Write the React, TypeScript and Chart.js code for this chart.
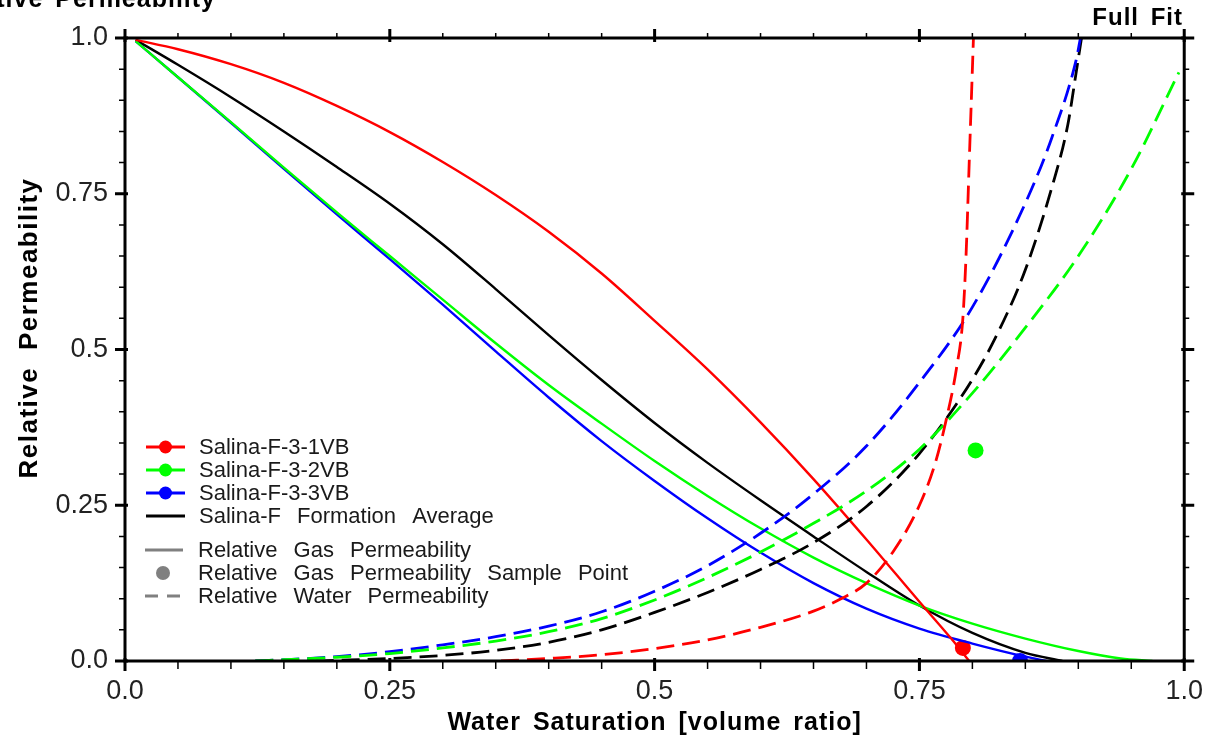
import React, { useEffect, useRef } from "react";
import { Chart, registerables } from "chart.js";

Chart.register(...registerables);

// ---- axis ticks ----
const tickValues = [0, 0.25, 0.5, 0.75, 1.0];
const xTickLabels = ["0.0", "0.25", "0.5", "0.75", "1.0"];
const yTickLabels = ["0.0", "0.25", "0.5", "0.75", "1.0"];

// ---- series ----
const seriesNames = ["Salina-F-3-1VB", "Salina-F-3-2VB", "Salina-F-3-3VB", "Salina-F Formation Average"];
const seriesColors = ["#ff0000", "#00ff00", "#0000ff", "#000000"];

// Relative gas permeability (solid)
const gas1VB_x = [0.01, 0.05, 0.10, 0.15, 0.20, 0.25, 0.30, 0.35, 0.40, 0.45, 0.50, 0.55, 0.60, 0.65, 0.70, 0.75, 0.78, 0.797];
const gas1VB_y = [0.997, 0.982, 0.958, 0.928, 0.891, 0.849, 0.801, 0.748, 0.689, 0.622, 0.546, 0.468, 0.383, 0.292, 0.195, 0.095, 0.036, 0.0];

const gas2VB_x = [0.01, 0.05, 0.10, 0.15, 0.20, 0.25, 0.30, 0.35, 0.40, 0.45, 0.50, 0.55, 0.60, 0.65, 0.70, 0.75, 0.80, 0.85, 0.90, 0.94, 0.97];
const gas2VB_y = [0.995, 0.937, 0.865, 0.792, 0.720, 0.650, 0.580, 0.510, 0.443, 0.381, 0.321, 0.265, 0.213, 0.166, 0.125, 0.089, 0.060, 0.036, 0.016, 0.004, 0.0];

const gas3VB_x = [0.01, 0.05, 0.10, 0.15, 0.20, 0.25, 0.30, 0.35, 0.40, 0.45, 0.50, 0.55, 0.60, 0.65, 0.70, 0.75, 0.80, 0.85, 0.87];
const gas3VB_y = [0.995, 0.937, 0.864, 0.790, 0.717, 0.645, 0.572, 0.497, 0.423, 0.353, 0.289, 0.229, 0.174, 0.125, 0.084, 0.052, 0.028, 0.007, 0.0];

const gasAvg_x = [0.01, 0.05, 0.10, 0.15, 0.20, 0.25, 0.30, 0.35, 0.40, 0.45, 0.50, 0.55, 0.60, 0.65, 0.70, 0.75, 0.80, 0.85, 0.885];
const gasAvg_y = [0.997, 0.957, 0.905, 0.850, 0.793, 0.734, 0.669, 0.597, 0.523, 0.451, 0.382, 0.318, 0.258, 0.200, 0.143, 0.089, 0.045, 0.013, 0.0];

// Relative water permeability (dashed)
const wat1VB_x = [0.355, 0.40, 0.45, 0.50, 0.55, 0.60, 0.65, 0.675, 0.70, 0.725, 0.75, 0.765, 0.775, 0.785, 0.791, 0.794, 0.797, 0.801];
const wat1VB_y = [0.0, 0.004, 0.010, 0.020, 0.034, 0.054, 0.080, 0.099, 0.125, 0.175, 0.250, 0.318, 0.385, 0.470, 0.550, 0.650, 0.800, 1.0];

const wat2VB_x = [0.123, 0.15, 0.20, 0.25, 0.30, 0.35, 0.40, 0.45, 0.50, 0.55, 0.60, 0.65, 0.70, 0.75, 0.80, 0.85, 0.90, 0.95, 0.995];
const wat2VB_y = [0.0, 0.002, 0.006, 0.012, 0.021, 0.032, 0.047, 0.068, 0.098, 0.134, 0.175, 0.221, 0.273, 0.340, 0.430, 0.535, 0.650, 0.790, 0.945];

const wat3VB_x = [0.123, 0.15, 0.20, 0.25, 0.30, 0.35, 0.40, 0.45, 0.50, 0.55, 0.60, 0.65, 0.70, 0.75, 0.80, 0.85, 0.875, 0.898, 0.902];
const wat3VB_y = [0.0, 0.002, 0.007, 0.015, 0.026, 0.039, 0.056, 0.079, 0.112, 0.153, 0.205, 0.268, 0.345, 0.447, 0.568, 0.735, 0.840, 0.965, 1.0];

const watAvg_x = [0.18, 0.20, 0.25, 0.30, 0.35, 0.40, 0.45, 0.50, 0.55, 0.60, 0.65, 0.70, 0.75, 0.80, 0.825, 0.85, 0.875, 0.89, 0.898, 0.903];
const watAvg_y = [0.0, 0.001, 0.004, 0.009, 0.017, 0.030, 0.050, 0.078, 0.110, 0.147, 0.190, 0.248, 0.333, 0.452, 0.530, 0.628, 0.760, 0.860, 0.945, 1.0];

// Relative gas permeability sample points
const sample_x = [0.791, 0.803, 0.845];
const sample_y = [0.021, 0.338, 0.0];
const sampleColors = ["#ff0000", "#00ff00", "#0000ff"];

const FONT = "'Liberation Sans', Arial, Helvetica, sans-serif";

function pts(xs: number[], ys: number[]) {
  return xs.map((x, i) => ({ x, y: ys[i] }));
}

function lineDs(label: string, xs: number[], ys: number[], color: string, dashed: boolean) {
  return {
    label,
    data: pts(xs, ys),
    borderColor: color,
    backgroundColor: color,
    borderWidth: dashed ? 2.8 : 2.4,
    borderDash: dashed ? [18, 8] : [],
    pointRadius: 0,
    pointHoverRadius: 0,
    showLine: true,
    fill: false,
    cubicInterpolationMode: "monotone" as const,
  };
}

const decorPlugin = {
  id: "decor",
  afterDatasetsDraw(chart: any) {
    const { ctx, chartArea: a, scales } = chart;
    const xs = scales.x;
    const ys = scales.y;
    ctx.save();
    ctx.strokeStyle = "#000";
    for (let i = 0; i <= 20; i++) {
      const v = i / 20;
      const major = i % 5 === 0;
      const px = xs.getPixelForValue(v);
      const py = ys.getPixelForValue(v);
      ctx.lineWidth = major ? 3 : 1.5;
      ctx.beginPath();
      ctx.moveTo(px, a.bottom - (major ? 3 : 0));
      ctx.lineTo(px, a.bottom + (major ? 10 : 8));
      ctx.moveTo(px, a.top + (major ? 4 : 0));
      ctx.lineTo(px, a.top - (major ? 9 : 5));
      ctx.moveTo(a.left + (major ? 3 : 0), py);
      ctx.lineTo(a.left - (major ? 10 : 6), py);
      ctx.moveTo(a.right - (major ? 3 : 0), py);
      ctx.lineTo(a.right + (major ? 10 : 5), py);
      ctx.stroke();
    }
    ctx.lineWidth = 3;
    ctx.strokeRect(a.left, a.top, a.right - a.left, a.bottom - a.top);
    ctx.restore();
  },
  afterDraw(chart: any) {
    const { ctx, chartArea: a } = chart;
    ctx.save();
    // legend
    const symL = 146;
    const symR = 185;
    const textX = 199;
    const rows = [447, 470, 493, 516, 550, 573, 596];
    ctx.font = `22px ${FONT}`;
    ctx.textBaseline = "middle";
    ctx.textAlign = "left";
    (ctx as any).wordSpacing = "10px";
    for (let i = 0; i < 4; i++) {
      const y = rows[i];
      ctx.strokeStyle = seriesColors[i];
      ctx.lineWidth = 3;
      ctx.setLineDash([]);
      ctx.beginPath();
      ctx.moveTo(symL, y);
      ctx.lineTo(symR, y);
      ctx.stroke();
      if (i < 3) {
        ctx.fillStyle = seriesColors[i];
        ctx.beginPath();
        ctx.arc((symL + symR) / 2, y, 6.5, 0, Math.PI * 2);
        ctx.fill();
      }
      ctx.fillStyle = "#1a1a1a";
      ctx.fillText(seriesNames[i], textX, y + 1);
    }
    const gray = "#808080";
    ctx.strokeStyle = gray;
    ctx.lineWidth = 3;
    ctx.beginPath();
    ctx.moveTo(symL - 1, rows[4]);
    ctx.lineTo(symR - 2, rows[4]);
    ctx.stroke();
    ctx.fillStyle = gray;
    ctx.beginPath();
    ctx.arc(163, rows[5], 7, 0, Math.PI * 2);
    ctx.fill();
    ctx.setLineDash([13, 9]);
    ctx.beginPath();
    ctx.moveTo(symL - 1, rows[6]);
    ctx.lineTo(symR - 2, rows[6]);
    ctx.stroke();
    ctx.setLineDash([]);
    ctx.fillStyle = "#1a1a1a";
    ctx.fillText("Relative Gas Permeability", textX - 1, rows[4] + 1);
    ctx.fillText("Relative Gas Permeability Sample Point", textX - 1, rows[5] + 1);
    ctx.fillText("Relative Water Permeability", textX - 1, rows[6] + 1);

    // titles
    ctx.fillStyle = "#000";
    (ctx as any).letterSpacing = "1px";
    (ctx as any).wordSpacing = "4px";
    ctx.font = `bold 25px ${FONT}`;
    ctx.textAlign = "center";
    ctx.textBaseline = "alphabetic";
    ctx.fillText("Water Saturation [volume ratio]", (a.left + a.right) / 2, 730);

    ctx.textAlign = "right";
    ctx.font = `bold 24px ${FONT}`;
    ctx.fillText("Full Fit", 1183, 25);
    ctx.font = `bold 25px ${FONT}`;
    ctx.fillText("Relative Permeability", 216, 7);

    ctx.save();
    ctx.translate(30, 328);
    ctx.rotate(-Math.PI / 2);
    ctx.font = `bold 26px ${FONT}`;
    (ctx as any).letterSpacing = "1.5px";
    (ctx as any).wordSpacing = "8px";
    ctx.textAlign = "center";
    ctx.textBaseline = "middle";
    ctx.fillText("Relative Permeability", 0, 0);
    ctx.restore();

    ctx.restore();
  },
};

export default function App() {
  const canvasRef = useRef<HTMLCanvasElement | null>(null);

  useEffect(() => {
    const canvas = canvasRef.current;
    if (!canvas) return;
    const datasets: any[] = [
      lineDs(seriesNames[0] + " water", wat1VB_x, wat1VB_y, seriesColors[0], true),
      lineDs(seriesNames[1] + " water", wat2VB_x, wat2VB_y, seriesColors[1], true),
      lineDs(seriesNames[2] + " water", wat3VB_x, wat3VB_y, seriesColors[2], true),
      lineDs(seriesNames[3] + " water", watAvg_x, watAvg_y, seriesColors[3], true),
      lineDs(seriesNames[0] + " gas", gas1VB_x, gas1VB_y, seriesColors[0], false),
      lineDs(seriesNames[1] + " gas", gas2VB_x, gas2VB_y, seriesColors[1], false),
      lineDs(seriesNames[2] + " gas", gas3VB_x, gas3VB_y, seriesColors[2], false),
      lineDs(seriesNames[3] + " gas", gasAvg_x, gasAvg_y, seriesColors[3], false),
    ];
    sample_x.forEach((x, i) => {
      datasets.push({
        label: seriesNames[i] + " sample",
        data: [{ x, y: sample_y[i] }],
        showLine: false,
        pointRadius: 8,
        pointHoverRadius: 8,
        pointBackgroundColor: sampleColors[i],
        pointBorderColor: sampleColors[i],
        pointBorderWidth: 0,
        clip: 0,
      });
    });

    const chart = new Chart(canvas, {
      type: "scatter",
      data: { datasets },
      options: {
        animation: false,
        responsive: true,
        maintainAspectRatio: false,
        layout: { padding: { top: 38, right: 27, left: 0, bottom: 0 } },
        plugins: { legend: { display: false }, tooltip: { enabled: false } },
        events: [],
        scales: {
          x: {
            type: "linear",
            min: 0,
            max: 1,
            grid: { display: false, drawTicks: false },
            border: { display: false },
            ticks: {
              stepSize: 0.25,
              autoSkip: false,
              maxRotation: 0,
              padding: 14,
              color: "#222",
              font: { family: FONT, size: 27 },
              callback: (v: any) => {
                const idx = tickValues.findIndex((t) => Math.abs(t - Number(v)) < 1e-9);
                return idx >= 0 ? xTickLabels[idx] : "";
              },
            },
            afterFit: (s: any) => {
              s.height = 79;
            },
          },
          y: {
            type: "linear",
            min: 0,
            max: 1,
            grid: { display: false, drawTicks: false },
            border: { display: false },
            ticks: {
              stepSize: 0.25,
              autoSkip: false,
              padding: 17,
              color: "#222",
              font: { family: FONT, size: 27 },
              callback: (v: any) => {
                const idx = tickValues.findIndex((t) => Math.abs(t - Number(v)) < 1e-9);
                return idx >= 0 ? yTickLabels[idx] : "";
              },
            },
            afterFit: (s: any) => {
              s.width = 125;
            },
          },
        },
      },
      plugins: [decorPlugin],
    });
    return () => chart.destroy();
  }, []);

  return (
    <div style={{ position: "fixed", left: 0, top: 0, width: 1217, height: 740, background: "#fff" }}>
      <canvas ref={canvasRef} />
    </div>
  );
}
